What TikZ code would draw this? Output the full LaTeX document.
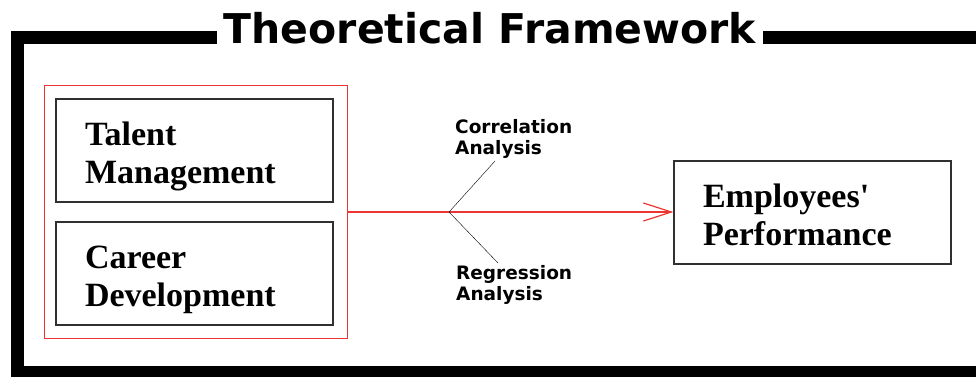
\documentclass[tikz,border=0pt]{standalone}
\usepackage{fontspec}
\setmainfont{Liberation Serif}
\newfontfamily\labelfont{DejaVu Sans}
\usepackage{xcolor}
\usetikzlibrary{arrows.meta,calc,fit,positioning}
\definecolor{linkred}{RGB}{235,52,52}
\definecolor{boxgray}{RGB}{48,48,48}
\tikzset{
    varbox/.style={draw=boxgray, line width=1.3pt, rectangle, minimum width=277pt, minimum height=103pt, text width=219pt, inner xsep=29pt, inner ysep=0pt, text height=24pt, text depth=35pt, align=left, font=\bfseries\fontsize{34}{38}\selectfont},
    tag/.style={anchor=north west, inner sep=0pt, align=left, font=\labelfont\bfseries\fontsize{18.5}{21}\selectfont},
    frameline/.style={line width=13pt, line join=miter},
    link/.style={linkred, line width=1.2pt}}

\begin{document}
\begin{tikzpicture}[x=1pt,y=-1pt]
\clip (0,0) rectangle (976,376);
% variables
\node[varbox] (talent) at (194.5,150.5) {Talent\\Management};
\node[varbox] (career) at (194.5,273.5) {Career\\Development};
\node[varbox] (perf) at (812.5,212.5) {Employees\textquotesingle\\Performance};
\node[draw=linkred, line width=1.2pt, fit=(talent)(career), inner xsep=12.5pt, inner ysep=13pt, xshift=1.5pt] (group) {};

% link and the two analyses
\draw[link, -{Straight Barb[length=28pt,width=18pt]}] (group.east) -- (group.east -| perf.west);
\coordinate (fork) at ($(group.east)!0.31!(group.east -| perf.west)$);
\coordinate (corrtip) at (495,161);
\coordinate (regtip) at (498,263);
\draw (fork) -- (corrtip);
\draw (fork) -- (regtip);
\node[tag] (corr) at (455,119) {Correlation\\Analysis};
\node[tag] (regr) at (456,265) {Regression\\Analysis};

% frame with title
\node[font=\labelfont\bfseries\fontsize{41}{48}\selectfont, inner xsep=7pt, anchor=base] (title) at (490,43) {Theoretical Framework};
\coordinate (tl) at (17.5,37);
\coordinate (bl) at (17.5,372);
\coordinate (br) at (995,372);
\coordinate (tr) at (995,37);
\draw[frameline] (title.west |- tl) -- (tl) -- (bl) -- (br) -- (tr) -- (title.east |- tr);
\end{tikzpicture}
\end{document}
